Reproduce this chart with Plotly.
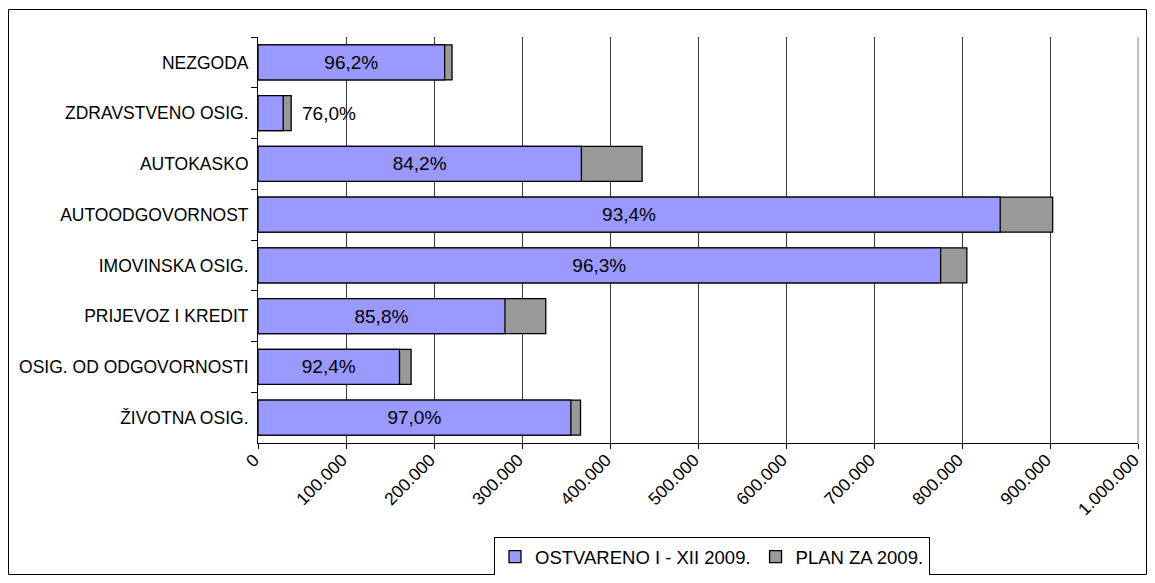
import plotly.graph_objects as go

categories = ["NEZGODA", "ZDRAVSTVENO OSIG.", "AUTOKASKO", "AUTOODGOVORNOST",
              "IMOVINSKA OSIG.", "PRIJEVOZ I KREDIT", "OSIG. OD ODGOVORNOSTI", "ŽIVOTNA OSIG."]
plan_2009 = [220500, 37700, 436500, 903000, 805500, 327000, 174000, 366500]
ostvareno_2009 = [212100, 28650, 367500, 843400, 775700, 280600, 160800, 355500]
tick_vals = [0, 100000, 200000, 300000, 400000, 500000, 600000, 700000, 800000, 900000, 1000000]
tick_text = ["0", "100.000", "200.000", "300.000", "400.000", "500.000", "600.000",
             "700.000", "800.000", "900.000", "1.000.000"]

pct = [f"{r / p * 100:.1f}%".replace(".", ",") for r, p in zip(ostvareno_2009, plan_2009)]
inside_idx = [i for i in range(len(categories)) if ostvareno_2009[i] > 100000]
inside_text = [pct[i] if i in inside_idx else "" for i in range(len(categories))]

FONT = "Liberation Sans, Arial, sans-serif"
FS = 17.5
FS_BAR = 19
FS_LEG = 18.5

fig = go.Figure()
fig.add_trace(go.Bar(
    y=categories, x=plan_2009, orientation="h", name="PLAN ZA 2009.",
    marker=dict(color="#999999", line=dict(color="#000000", width=1.3)),
    width=0.69, legendrank=2,
))
fig.add_trace(go.Bar(
    y=categories, x=ostvareno_2009, orientation="h", name="OSTVARENO I - XII 2009.",
    marker=dict(color="#9999FF", line=dict(color="#000000", width=1.3)),
    width=0.69, legendrank=1,
    text=inside_text, textposition="inside", insidetextanchor="middle",
    textfont=dict(family=FONT, size=FS_BAR, color="#000000"), constraintext="none",
))

for i in range(len(categories)):
    if i not in inside_idx:
        fig.add_annotation(x=plan_2009[i], y=categories[i], text=pct[i], showarrow=False,
                           xanchor="left", xshift=9,
                           font=dict(family=FONT, size=FS_BAR, color="#000000"))

W, H = 1139, 567
L, R, T, B = 250, 9, 29, 132
pw, ph = W - L - R, H - T - B

def px(fx):
    return (fx - L) / pw

def py(fy):
    return (H - B - fy) / ph

fig.add_shape(type="rect", xref="paper", yref="paper",
              x0=px(0.5), x1=px(W - 0.5), y0=py(H - 0.5), y1=py(1.5),
              line=dict(color="#000000", width=1), layer="below")
fig.add_shape(type="line", xref="paper", yref="paper", x0=1, x1=1, y0=0, y1=1,
              line=dict(color="#808080", width=1))

fig.update_layout(
    width=W, height=H,
    margin=dict(l=L, r=R, t=T, b=B, pad=0, autoexpand=False),
    barmode="overlay",
    paper_bgcolor="#FFFFFF", plot_bgcolor="#FFFFFF",
    font=dict(family=FONT, size=FS, color="#000000"),
    showlegend=True,
    legend=dict(orientation="h", x=px(712 - 8), xanchor="center", y=py(529), yanchor="top",
                bordercolor="#000000", borderwidth=1, bgcolor="#FFFFFF",
                font=dict(family=FONT, size=FS_LEG), traceorder="normal",
                itemwidth=30, tracegroupgap=0),
    xaxis=dict(range=[0, 1000000], tickvals=tick_vals, ticktext=tick_text,
               tickangle=-45, showgrid=True, gridcolor="#3a3a3a", gridwidth=1,
               showline=True, linecolor="#000000", linewidth=1,
               ticks="outside", ticklen=5, tickcolor="#000000",
               ticklabeloverflow="allow", automargin=False,
               ticklabelstandoff=-6, ticklabelshift=-4,
               tickfont=dict(family=FONT, size=FS), zeroline=False, fixedrange=True),
    yaxis=dict(categoryorder="array", categoryarray=categories, autorange="reversed",
               showline=True, linecolor="#000000", linewidth=1,
               ticks="outside", ticklen=6, tickcolor="#000000", tickson="boundaries",
               tickfont=dict(family=FONT, size=FS), showgrid=False, ticklabelstandoff=5,
               automargin=False, fixedrange=True),
)

fig.write_html("out.html")
